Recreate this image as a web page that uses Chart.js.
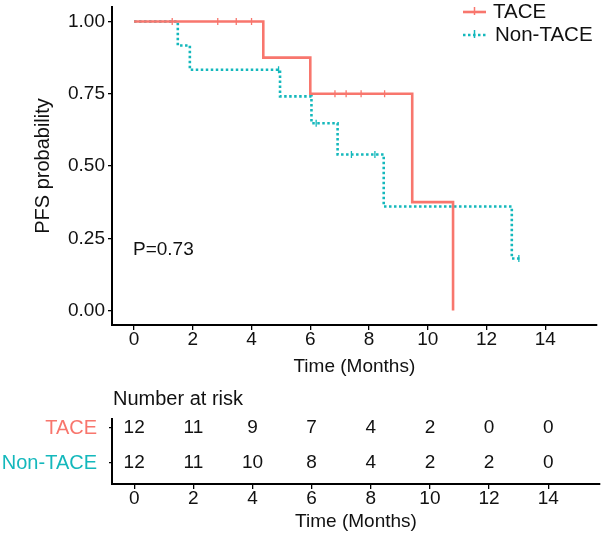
<!DOCTYPE html>
<html>
<head>
<meta charset="utf-8">
<script src="https://cdn.jsdelivr.net/npm/chart.js@4.4.1/dist/chart.umd.min.js"></script>
<style>
  body { margin: 0; background: #fff; }
  #wrap { position: relative; width: 602px; height: 535px; }
  canvas { position: absolute; left: 0; }
</style>
</head>
<body>
<div id="wrap">
  <canvas id="km" width="602" height="385" style="top:0"></canvas>
  <canvas id="risk" width="602" height="150" style="top:385px"></canvas>
</div>
<script>
// survival curves (time in months, PFS probability)
const taceTime = [0, 4.4, 6.0, 9.47, 10.86];
const taceSurv = [1, 0.875, 0.75, 0.375, 0];
const taceCensorTime = [1.3, 2.85, 3.48, 4.0, 6.84, 7.22, 7.73, 8.53];
const taceCensorSurv = [1, 1, 1, 1, 0.75, 0.75, 0.75, 0.75];

const nonTime = [0, 1.49, 1.9, 4.97, 6.04, 6.93, 8.5, 12.86, 13.2];
const nonSurv = [1, 0.917, 0.833, 0.741, 0.648, 0.54, 0.36, 0.18, 0.18];
const nonCensorTime = [4.92, 6.2, 7.4, 8.2, 13.1];
const nonCensorSurv = [0.833, 0.648, 0.54, 0.54, 0.18];

// axes + risk table
const timeTicks = [0, 2, 4, 6, 8, 10, 12, 14];
const survTicks = [0, 0.25, 0.5, 0.75, 1];
const groups = ["TACE", "Non-TACE"];
const taceAtRisk = [12, 11, 9, 7, 4, 2, 0, 0];
const nonAtRisk = [12, 11, 10, 8, 4, 2, 2, 0];
const pText = "P=0.73";

const red = "#F8766D";
const teal = "#14B8BC";
const ink = "#111";
const FONT = "'Liberation Sans', Arial, sans-serif";

Chart.defaults.font.family = FONT;
Chart.defaults.font.size = 19;
Chart.defaults.color = ink;

const pts = (xs, ys) => xs.map((x, i) => ({ x: x, y: ys[i] }));

// no extra room for half tick labels, the layout padding does it
const noPad = s => { s.paddingTop = 0; s.paddingBottom = 0; s.paddingLeft = 0; s.paddingRight = 0; };

const kmExtras = {
  id: "kmExtras",
  afterDraw(chart) {
    const ctx = chart.ctx;
    ctx.save();
    ctx.font = "19px " + FONT;
    ctx.fillStyle = ink;
    ctx.textBaseline = "middle";
    ctx.textAlign = "left";
    ctx.fillText(pText, 133, 250);

    // legend
    ctx.font = "20.5px " + FONT;
    const rows = [
      { label: groups[0], color: red, dash: [], y: 12, tx: 493 },
      { label: groups[1], color: teal, dash: [2.5, 2.5], y: 35, tx: 495 }
    ];
    rows.forEach(r => {
      ctx.strokeStyle = r.color;
      ctx.lineWidth = 2.6;
      ctx.setLineDash(r.dash);
      ctx.beginPath();
      ctx.moveTo(463, r.y);
      ctx.lineTo(486, r.y);
      ctx.stroke();
      ctx.setLineDash([]);
      ctx.lineWidth = 1.5;
      ctx.beginPath();
      ctx.moveTo(474.5, r.y - 5);
      ctx.lineTo(474.5, r.y + 3);
      ctx.stroke();
      ctx.fillStyle = ink;
      ctx.fillText(r.label, r.tx, r.y);
    });
    ctx.restore();
  }
};

new Chart(document.getElementById("km"), {
  type: "scatter",
  data: {
    datasets: [
      { label: groups[0], data: pts(taceTime, taceSurv), showLine: true, stepped: true,
        borderColor: red, borderWidth: 2.6, pointRadius: 0, fill: false },
      { label: groups[1], data: pts(nonTime, nonSurv), showLine: true, stepped: true,
        borderColor: teal, borderWidth: 2.6, borderDash: [2.5, 2.5], pointRadius: 0, fill: false },
      { data: pts(taceCensorTime, taceCensorSurv), pointStyle: "line", rotation: 90,
        pointRadius: 3.5, borderColor: red, borderWidth: 1.3, showLine: false },
      { data: pts(nonCensorTime, nonCensorSurv), pointStyle: "line", rotation: 90,
        pointRadius: 3.5, borderColor: teal, borderWidth: 1.3, showLine: false }
    ]
  },
  options: {
    responsive: false,
    animation: false,
    layout: { padding: { top: 7, right: 2, left: 0, bottom: 0 } },
    plugins: { legend: { display: false }, tooltip: { enabled: false } },
    scales: {
      x: {
        type: "linear", min: -0.75, max: 15.75,
        afterBuildTicks: s => { s.ticks = timeTicks.map(v => ({ value: v })); },
        afterFit: s => { s.height = 60; noPad(s); },
        grid: { drawOnChartArea: false, tickLength: 5, color: "#000", lineWidth: 1.3 },
        border: { display: true, color: "#000", width: 2 },
        ticks: { padding: 0, maxRotation: 0, autoSkip: false, font: { lineHeight: 1 } },
        title: { display: true, text: "Time (Months)", padding: { top: 0, bottom: 7 } }
      },
      y: {
        type: "linear", min: -0.05, max: 1.05,
        afterBuildTicks: s => { s.ticks = survTicks.map(v => ({ value: v })); },
        afterFit: s => { s.width = 112; noPad(s); },
        grid: { drawOnChartArea: false, tickLength: 4, color: "#000", lineWidth: 1.3 },
        border: { display: true, color: "#000", width: 2 },
        ticks: { padding: 3, callback: v => Number(v).toFixed(2) },
        title: { display: true, text: "PFS probability", font: { size: 20 }, padding: { top: 31, bottom: 0 } }
      }
    }
  },
  plugins: [kmExtras]
});

const riskExtras = {
  id: "riskExtras",
  afterDraw(chart) {
    const ctx = chart.ctx;
    ctx.save();
    ctx.font = "20px " + FONT;
    ctx.fillStyle = ink;
    ctx.textBaseline = "middle";
    ctx.textAlign = "left";
    ctx.fillText("Number at risk", 113, 14);
    ctx.font = "19px " + FONT;
    ctx.textAlign = "center";
    chart.data.datasets.forEach((ds, di) => {
      chart.getDatasetMeta(di).data.forEach((el, j) => {
        ctx.fillText(String(ds.data[j].n), el.x, el.y);
      });
    });
    ctx.restore();
  }
};

new Chart(document.getElementById("risk"), {
  type: "scatter",
  data: {
    datasets: [
      { data: timeTicks.map((t, i) => ({ x: t, y: 2, n: taceAtRisk[i] })), pointRadius: 0 },
      { data: timeTicks.map((t, i) => ({ x: t, y: 1, n: nonAtRisk[i] })), pointRadius: 0 }
    ]
  },
  options: {
    responsive: false,
    animation: false,
    layout: { padding: { top: 34, right: 2, left: 0, bottom: 0 } },
    plugins: { legend: { display: false }, tooltip: { enabled: false } },
    scales: {
      x: {
        type: "linear", min: -0.75, max: 15.75,
        afterBuildTicks: s => { s.ticks = timeTicks.map(v => ({ value: v })); },
        afterFit: s => { s.height = 51; noPad(s); },
        grid: { drawOnChartArea: false, tickLength: 5, color: "#000", lineWidth: 1.3 },
        border: { display: true, color: "#000", width: 2 },
        ticks: { padding: 0, maxRotation: 0, autoSkip: false, font: { lineHeight: 1 } },
        title: { display: true, text: "Time (Months)", padding: { top: 0, bottom: 2 } }
      },
      y: {
        type: "linear", min: 0.4, max: 2.26,
        afterBuildTicks: s => { s.ticks = [{ value: 2 }, { value: 1 }]; },
        afterFit: s => { s.width = 112; noPad(s); },
        grid: { drawOnChartArea: false, tickLength: 3, color: "#000", lineWidth: 1.2 },
        border: { display: true, color: "#000", width: 2 },
        ticks: {
          padding: 12,
          font: { size: 20 },
          callback: v => (v === 2 ? groups[0] : groups[1]),
          color: c => (c.tick && c.tick.value === 2 ? red : teal)
        }
      }
    }
  },
  plugins: [riskExtras]
});
</script>
</body>
</html>
